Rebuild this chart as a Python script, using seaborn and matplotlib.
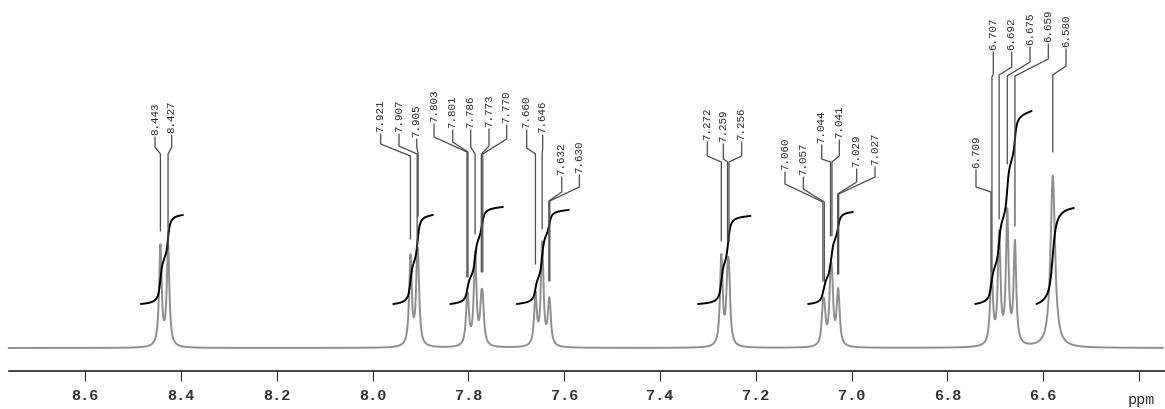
import numpy as np
import matplotlib
matplotlib.use("Agg")
import matplotlib.pyplot as plt
from matplotlib.ticker import MultipleLocator, FixedLocator, FuncFormatter
import seaborn as sns

# peak picking labels (ppm) as printed on the spectrum
peak_labels = ["8.443", "8.427", "7.921", "7.907", "7.905", "7.803", "7.801",
               "7.786", "7.773", "7.770", "7.660", "7.646", "7.632", "7.630",
               "7.272", "7.259", "7.256", "7.060", "7.057", "7.044", "7.041",
               "7.029", "7.027", "6.709", "6.707", "6.692", "6.675", "6.659",
               "6.580"]
# line heights (px above baseline)
peak_heights = [100, 100, 89, 53, 53, 28, 28, 91, 33, 33, 51, 102, 25, 25,
                89, 53, 53, 28, 28, 49, 49, 30, 30, 38, 38, 109, 131, 101,
                172]
peak_widths = [0.0032] * 28 + [0.0055]

# axis tick labels
tick_values = [8.6, 8.4, 8.2, 8.0, 7.8, 7.6, 7.4, 7.2, 7.0, 6.8, 6.6, 6.4]

# integral regions (ppm) and level of the top of each integral curve
integral_start = [8.484, 7.957, 7.838, 7.699, 7.321, 7.091, 6.742, 6.614]
integral_end = [8.396, 7.874, 7.728, 7.590, 7.211, 6.997, 6.624, 6.536]
integral_top = [133, 133, 141, 138, 132, 136, 237, 140]
integral_base = 44

# label layout (pixel positions in the original picture)
label_px = [155, 171.7, 380.7, 399, 416.7, 434, 452.7, 470.7, 489, 506.7,
            526.7, 542.7, 561.7, 579.3, 707.3, 723.3, 741.7, 785, 803.3,
            821.7, 839.3, 856.7, 875, 976, 993.3, 1011.7, 1030, 1048.3, 1066]
text_bottom = [135, 133, 132, 132, 137, 122, 128, 128, 127, 123, 128, 133,
               175, 173, 140, 142, 140, 170, 175, 143, 138, 167, 165, 168,
               50, 50, 45, 42, 47]
knee1 = [148, 148, 145, 147, 147, 138, 143, 148, 147, 140, 149, 149, 193, 188,
         157, 160, 157, 185, 190, 160, 157, 183, 178, 188, 75, 68, 63, 60, 67]
knee2 = [155, 155, 157, 155, 155, 153, 153, 155, 155, 155, 155, 155, 202, 202,
         163, 163, 163, 203, 203, 163, 163, 195, 195, 193, 78, 76, 77, 77, 76]
line_end = [232, 250, 240, 250, 217, 278, 278, 235, 273, 273, 265, 230, 282,
            282, 242, 242, 242, 282, 282, 237, 237, 275, 275, 273, 273, 220,
            165, 227, 153]

BASE_PY = 349


def px2ppm(px):
    return 8.4 - (px - 181) / 479.0


def py2y(py):
    return BASE_PY - py


centers = np.array([float(s) for s in peak_labels])
ppm = np.linspace(8.76, 6.35, 8000)
spec = np.zeros_like(ppm)
for c, h, w in zip(centers, peak_heights, peak_widths):
    spec += h * w ** 2 / ((ppm - c) ** 2 + w ** 2)

sns.set_style("white")
plt.rcParams["font.family"] = ["Liberation Mono", "DejaVu Sans Mono"]

fig = plt.figure(figsize=(11.65, 4.10), dpi=100)
ax = fig.add_axes([0, 38 / 410, 1, 372 / 410])

sns.lineplot(x=ppm, y=spec, ax=ax, color="#8f8f8f", linewidth=1.4,
             estimator=None, sort=False)

# integral curves
for s, e, top in zip(integral_start, integral_end, integral_top):
    m = (ppm <= s) & (ppm >= e)
    xs = ppm[m]
    cum = np.cumsum(spec[m])
    cum = integral_base + (top - integral_base) * cum / cum[-1]
    sns.lineplot(x=xs, y=cum, ax=ax, color="black", linewidth=1.4,
                 estimator=None, sort=False)

# peak labels with leader lines
for i, lab in enumerate(peak_labels):
    lx = px2ppm(label_px[i])
    px = float(lab)
    ax.plot([lx, lx, px, px],
            [py2y(text_bottom[i] + 3), py2y(knee1[i]), py2y(knee2[i]),
             py2y(line_end[i])],
            color="#4a4a4a", linewidth=0.9)
    ax.text(lx, py2y(text_bottom[i]), lab, rotation=90, ha="center",
            va="bottom", fontsize=7.8, color="#2a2a2a")

ax.set_xlim(px2ppm(0), px2ppm(1165))
ax.set_ylim(-23, 349)

for sp in ["top", "left", "right"]:
    ax.spines[sp].set_visible(False)
ax.spines["bottom"].set_color("#222222")
ax.spines["bottom"].set_linewidth(1.2)
ax.spines["bottom"].set_bounds(px2ppm(9), px2ppm(1165))
ax.set_yticks([])
ax.xaxis.set_major_locator(MultipleLocator(0.1))
ax.xaxis.set_minor_locator(MultipleLocator(0.02))
ax.tick_params(axis="x", which="major", length=5.0, width=0.8,
               color="#222222", labelbottom=False)
ax.tick_params(axis="x", which="minor", length=3.4, width=0.8,
               color="#222222")

sec = ax.secondary_xaxis("bottom")
sec.spines["bottom"].set_visible(False)
sec.xaxis.set_major_locator(FixedLocator(tick_values))
sec.xaxis.set_minor_locator(FixedLocator([]))
sec.xaxis.set_major_formatter(
    FuncFormatter(lambda v, p: "" if v < 6.5 else f"{v:.1f}"))
sec.tick_params(axis="x", which="major", length=7.2, width=0.8,
                color="#222222", pad=5, labelsize=11, labelcolor="#333333")
for t in sec.get_xticklabels():
    t.set_fontweight("bold")

fig.text(1141 / 1165, 1 - 400 / 410, "ppm", ha="center", va="center",
         fontsize=11, color="#333333")

fig.savefig("out.png", dpi=100)
